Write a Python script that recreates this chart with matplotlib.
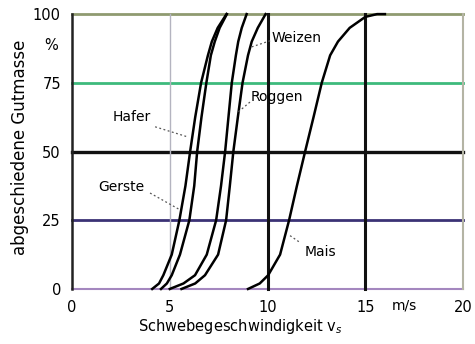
import numpy as np
import matplotlib.pyplot as plt

# separated mass (%) against settling velocity (m/s) for five grains
gerste_v = [4.1, 4.45, 4.67, 5.1, 5.49, 5.8, 6.04, 6.3, 6.6, 6.95, 7.15, 7.45, 7.9]
gerste_p = [0, 2, 5, 12.5, 25, 37.5, 50, 62.5, 75, 85, 90, 95, 100]
hafer_v = [4.55, 4.85, 5.1, 5.52, 6.0, 6.25, 6.4, 6.62, 6.87, 7.1, 7.3, 7.55, 7.92]
hafer_p = [0, 2, 5, 12.5, 25, 37.5, 50, 62.5, 75, 85, 90, 95, 100]
roggen_v = [5.0, 5.7, 6.29, 6.89, 7.37, 7.62, 7.83, 8.0, 8.17, 8.38, 8.5, 8.68, 8.93]
roggen_p = [0, 2, 5, 12.5, 25, 37.5, 50, 62.5, 75, 85, 90, 95, 100]
weizen_v = [5.6, 6.3, 6.8, 7.47, 7.88, 8.07, 8.25, 8.48, 8.72, 9.0, 9.19, 9.5, 9.9]
weizen_p = [0, 2, 5, 12.5, 25, 37.5, 50, 62.5, 75, 85, 90, 95, 100]
mais_v = [9.0, 9.6, 10.03, 10.64, 11.1, 11.5, 11.92, 12.35, 12.77, 13.2, 13.6, 14.2, 15.0, 15.6, 16.0]
mais_p = [0, 2, 5, 12.5, 25, 37.5, 50, 62.5, 75, 85, 90, 95, 99, 100, 100]

xticks = [0, 5, 10, 15, 20]
yticks = [0, 25, 50, 75, 100]

# label text, text position, leader start, leader end
labels = [
    ('Hafer', (3.07, 62.6), (4.25, 59.0), (5.88, 55.4)),
    ('Gerste', (2.5, 37.0), (3.99, 34.9), (5.52, 28.8)),
    ('Weizen', (11.5, 91.4), (10.13, 90.3), (9.2, 88.1)),
    ('Roggen', (10.5, 70.0), (9.1, 68.0), (8.5, 64.4)),
    ('Mais', (12.7, 13.3), (11.15, 19.4), (11.66, 16.9)),
]

plt.rcParams['font.family'] = 'DejaVu Sans'
fig = plt.figure(figsize=(4.75, 3.44), dpi=100)
ax = fig.add_axes([0.1516, 0.160, 0.8234, 0.799])
ax.set_xlim(0, 20)
ax.set_ylim(0, 100)
for s in ax.spines.values():
    s.set_visible(False)

# coloured grid, one colour per level
hcol = {100: '#8f9a70', 75: '#3dba7c', 50: '#111111', 25: '#3b3275', 0: '#a487bf'}
hlw = {100: 2.0, 75: 2.0, 50: 2.4, 25: 2.0, 0: 1.5}
for y in yticks:
    ax.axhline(y, color=hcol[y], lw=hlw[y], zorder=1, clip_on=False)
vcol = {0: '#222222', 5: '#b4b4c0', 10: '#111111', 15: '#111111', 20: '#b4b4a4'}
vlw = {0: 1.8, 5: 1.0, 10: 2.2, 15: 2.2, 20: 1.5}
for x in xticks:
    ax.axvline(x, color=vcol[x], lw=vlw[x], zorder=1, clip_on=False)

for v, p in [(gerste_v, gerste_p), (hafer_v, hafer_p), (roggen_v, roggen_p),
             (weizen_v, weizen_p), (mais_v, mais_p)]:
    ax.plot(v, p, color='black', lw=1.8, zorder=3, clip_on=False)

for name, tp, a, b in labels:
    ax.text(tp[0], tp[1], name, fontsize=10, ha='center', va='center', zorder=4)
    ax.plot([a[0], b[0]], [a[1], b[1]], color='#555555', lw=0.9, ls=(0, (1.5, 2)), zorder=4)

ax.set_xticks(xticks)
ax.set_yticks(yticks)
ax.tick_params(length=0, labelsize=10.5, pad=8)
ax.text(-0.035, 0.885, '%', transform=ax.transAxes, fontsize=10.5, ha='right', va='center')
ax.text(17.0, -6.0, 'm/s', fontsize=10, ha='center', va='center')

fig.text(240 / 475, 1 - 326 / 344, 'Schwebegeschwindigkeit v$_s$', fontsize=10.5,
         ha='center', va='center')
fig.text(20 / 475, 1 - 147 / 344, 'abgeschiedene Gutmasse', fontsize=12,
         rotation=90, ha='center', va='center')

fig.savefig('out.png', dpi=100)
